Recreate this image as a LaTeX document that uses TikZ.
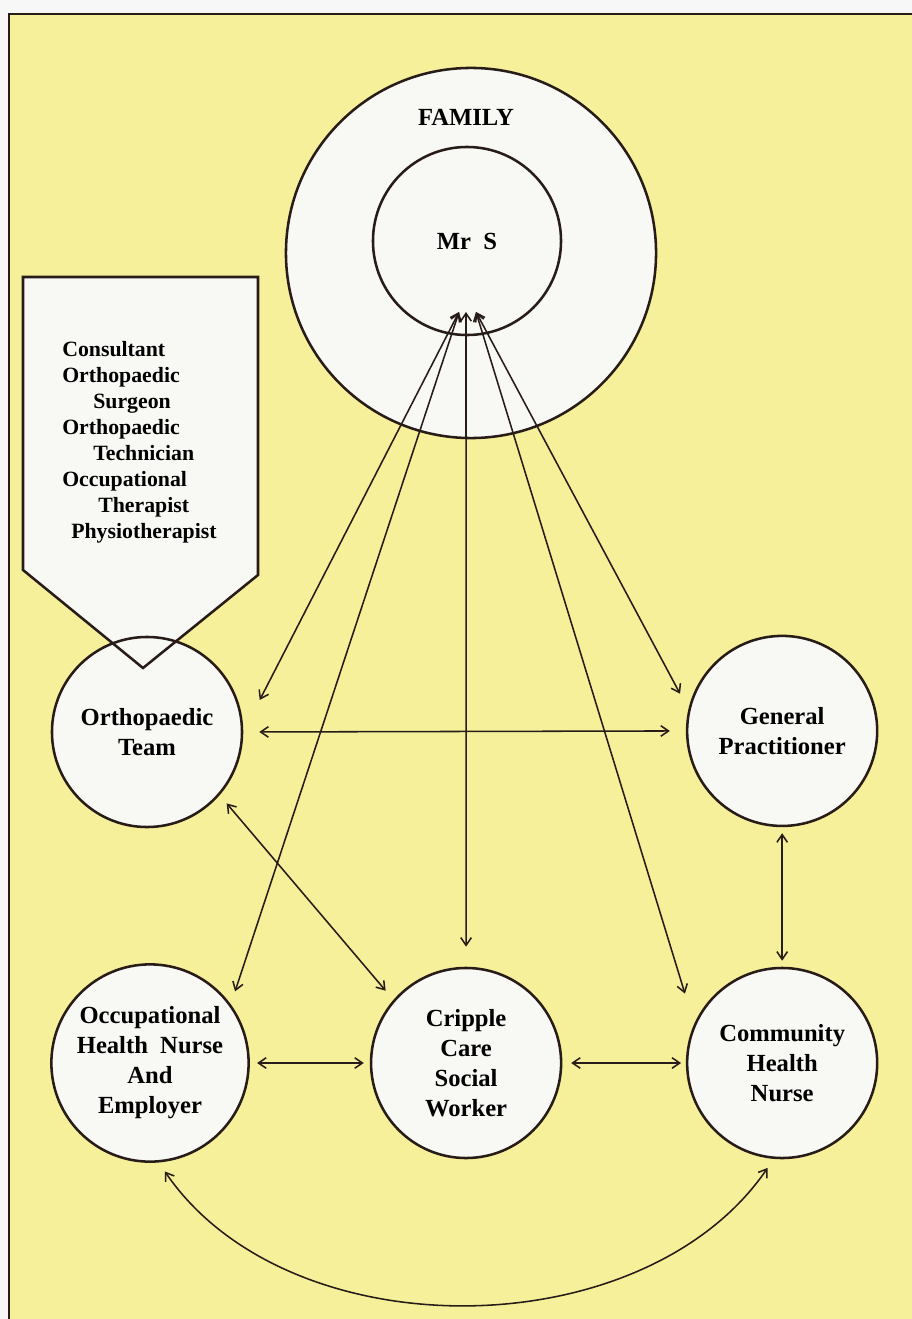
\documentclass[tikz,border=0pt]{standalone}
\usepackage{fontspec}
\setmainfont{Liberation Serif}
\usetikzlibrary{positioning,arrows.meta}
\definecolor{pageyellow}{RGB}{246,240,154}
\definecolor{discwhite}{RGB}{248,248,244}
\definecolor{inkline}{RGB}{40,28,24}
\tikzset{
    member/.style={draw=inkline, shape=circle, fill=discwhite, line width=1.8pt, minimum size=4.75cm, align=center, font=\bfseries\fontsize{17.5}{21.3}\selectfont},
    memtext/.style={font=\bfseries\fontsize{17.5}{21.3}\selectfont},
    link/.style={<->, draw=inkline, line width=1.1pt}
}
\begin{document}
\begin{tikzpicture}[x=0.025cm, y=-0.025cm, node distance=7.9cm, >={Straight Barb[length=5.5pt,width=7.5pt]}]
        \useasboundingbox (0,0) rectangle (912,1319);
        % Page
        \fill[white!97!black] (0,0) rectangle (912,1319);
        \fill[pageyellow] (9,14) rectangle (912,1319);
        \draw[inkline, line width=2pt] (9,1319) -- (9,14) -- (912,14);

        % Node definitions
        \node (family) [member, minimum size=9.25cm] at (471,253) {};
        \node (famtext) [memtext] at (466,117) {FAMILY};
        \node (mrs) [member, minimum size=4.7cm] at (467,241) {Mr\enspace S};
        \coordinate (hubL) at (459,312);
        \coordinate (hubM) at (466,312);
        \coordinate (hubR) at (476,312);

        % Team banner
        \fill[discwhite] (23,277) -- (258,277) -- (258,575) -- (143,668) -- (23,570) -- cycle;
        \node (ortho) [member] at (147,732) {Orthopaedic\\Team};
        \draw[inkline, line width=1.8pt] (23,277) -- (258,277) -- (258,575) -- (143,668) -- (23,570) -- cycle;
        \node (staff) [anchor=north west, inner sep=0pt, align=left, font=\bfseries\fontsize{15.5}{18.5}\selectfont] at (62,341) {
            Consultant\\
            Orthopaedic\\
            \hspace*{0.775cm}Surgeon\\
            Orthopaedic\\
            \hspace*{0.775cm}Technician\\
            Occupational\\
            \hspace*{0.9cm}Therapist\\
            \hspace*{0.225cm}Physiotherapist
        };

        \node (occ) [member] at (150,1063) {Occupational\\Health\enspace Nurse\\And\\Employer};
        \node (cripple) [member, right of=occ] {Cripple\\Care\\Social\\Worker};
        \node (comm) [member, right of=cripple] {Community\\Health\\Nurse};
        \node (gp) [member, above of=comm, yshift=0.4cm] {General\\Practitioner};

        % Connecting lines
        \draw[link, shorten >=0.9cm] (hubL) -- (ortho.east);
        \draw[link, shorten >=0.34cm] (hubL) -- (occ.36);
        \draw[link, shorten >=0.5cm] (hubM) -- (cripple.north);
        \draw[link, shorten >=0.79cm] (hubR) -- (comm.156);
        \draw[link, shorten >=0.44cm] (hubR) -- (gp.167);
        \draw[link, shorten <=0.4cm, shorten >=0.4cm] (ortho.east) -- (gp.west);
        \draw[link, shorten <=0.15cm, shorten >=0.15cm] (gp.south) -- (comm.north);
        \draw[link, shorten <=0.18cm, shorten >=0.15cm] (occ.east) -- (cripple.west);
        \draw[link, shorten <=0.22cm, shorten >=0.12cm] (cripple.east) -- (comm.west);
        \draw[link, shorten <=0.27cm, shorten >=0.3cm] (ortho.-41) -- (cripple.139);
        \draw[link, shorten <=0.27cm, shorten >=0.27cm] (occ.-85) .. controls +(130,190) and +(-130,190) .. (comm.-95);
    \end{tikzpicture}
\end{document}
